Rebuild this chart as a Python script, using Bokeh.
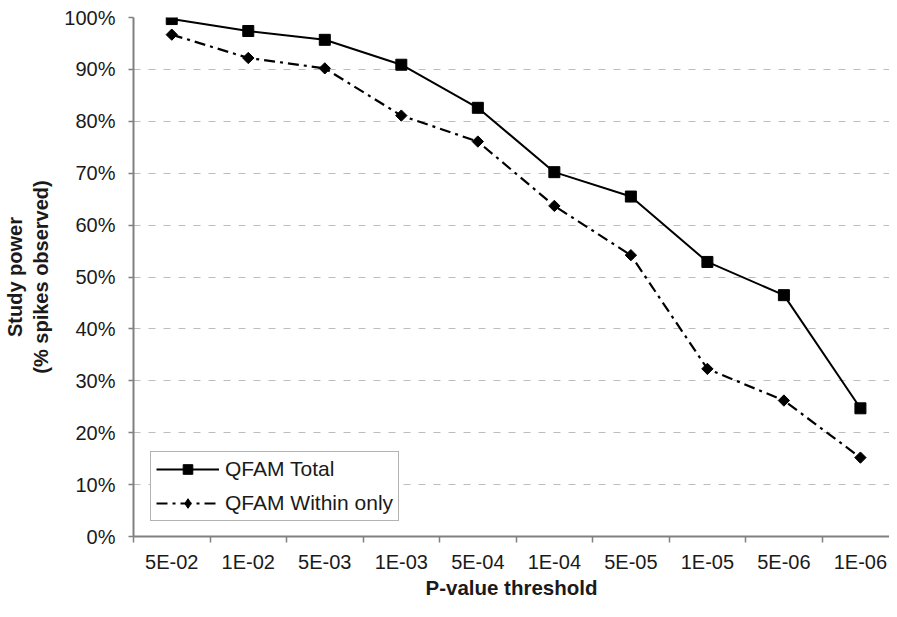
from bokeh.plotting import figure
from bokeh.models import (Range1d, FixedTicker, PrintfTickFormatter, Legend, LegendItem, Grid)
from bokeh.embed import file_html
from bokeh.resources import INLINE
import numpy as np

categories = ["5E-02", "1E-02", "5E-03", "1E-03", "5E-04", "1E-04", "5E-05", "1E-05", "5E-06", "1E-06"]
qfam_total = [99.7, 97.4, 95.7, 90.9, 82.6, 70.2, 65.5, 52.9, 46.5, 24.7]
qfam_within = [96.7, 92.2, 90.2, 81.1, 76.1, 63.7, 54.2, 32.3, 26.2, 15.2]
y_ticks = [0, 10, 20, 30, 40, 50, 60, 70, 80, 90, 100]

FONT = "Liberation Sans"
TXT = "#1a1a1a"
AX = "#808080"

n = len(categories)
xc = [i + 0.5 for i in range(n)]

p = figure(width=889, height=601, output_backend="svg", toolbar_location=None,
           x_range=Range1d(0, 9.88), y_range=Range1d(0, 100),
           min_border_left=128, min_border_right=0, min_border_top=17, min_border_bottom=0)
p.outline_line_color = None
p.background_fill_color = "white"
p.border_fill_color = "white"

# x axis
xa = p.xaxis[0]
xa.ticker = FixedTicker(ticks=xc, minor_ticks=list(range(n)))
xa.major_label_overrides = {x: c for x, c in zip(xc, categories)}
xa.major_tick_line_color = None
xa.major_tick_out = 0
xa.major_tick_in = 0
xa.minor_tick_line_color = AX
xa.minor_tick_line_width = 1.5
xa.minor_tick_out = 6
xa.minor_tick_in = 0
xa.axis_line_color = AX
xa.axis_line_width = 2
xa.major_label_standoff = 8
xa.major_label_text_font = FONT
xa.major_label_text_font_size = "20px"
xa.major_label_text_color = TXT
xa.axis_label = "P-value threshold"
xa.axis_label_text_font = FONT
xa.axis_label_text_font_style = "bold"
xa.axis_label_text_font_size = "20.5px"
xa.axis_label_text_color = TXT
xa.axis_label_standoff = 0

# y axis
ya = p.yaxis[0]
ya.ticker = FixedTicker(ticks=y_ticks, minor_ticks=[])
ya.formatter = PrintfTickFormatter(format="%d%%")
ya.major_tick_line_color = AX
ya.major_tick_line_width = 1.5
ya.major_tick_out = 5
ya.major_tick_in = 0
ya.axis_line_color = AX
ya.axis_line_width = 2
ya.major_label_standoff = 13
ya.major_label_text_font = FONT
ya.major_label_text_font_size = "20px"
ya.major_label_text_color = TXT
ya.axis_label = "Study power\n(% spikes observed)"
ya.axis_label_text_font = FONT
ya.axis_label_text_font_style = "bold"
ya.axis_label_text_font_size = "20px"
ya.axis_label_text_color = TXT
ya.axis_label_standoff = 9

# grids
p.xgrid.grid_line_color = None
p.ygrid.ticker = FixedTicker(ticks=y_ticks[1:-1])
p.ygrid.grid_line_color = "#bdbdbd"
p.ygrid.grid_line_width = 1.2
p.ygrid.grid_line_dash = "7 8"
top_grid = Grid(dimension=1, ticker=FixedTicker(ticks=y_ticks[-1:]),
                grid_line_color="#999999", grid_line_width=2)
p.add_layout(top_grid)

# series
l1 = p.line(xc, qfam_total, line_color="black", line_width=2)
s1 = p.scatter(xc, qfam_total, marker="square", size=11, fill_color="black", line_color="black")
l2 = p.line(xc, qfam_within, line_color="black", line_width=2.2, line_dash="11 5 3 5")
s2 = p.scatter(xc, qfam_within, marker="square", angle=np.pi / 4, size=8, fill_color="black", line_color="black")
s2_leg = p.scatter(xc, qfam_within, marker="diamond", size=12, fill_color="black", line_color="black",
                   visible=False)

legend = Legend(items=[LegendItem(label="QFAM Total", renderers=[l1, s1]),
                       LegendItem(label="QFAM Within only", renderers=[l2, s2_leg])],
                location=(17, 15), orientation="vertical")
legend.glyph_width = 63
legend.glyph_height = 24
legend.label_height = 24
legend.label_standoff = 6
legend.spacing = 10
legend.padding = 5
legend.margin = 0
legend.border_line_color = "#666666"
legend.border_line_width = 1.5
legend.background_fill_color = "white"
legend.background_fill_alpha = 1
legend.label_text_font = FONT
legend.label_text_font_size = "21px"
legend.label_text_color = TXT
p.add_layout(legend, "center")

open("out.html", "w").write(file_html(p, INLINE))
